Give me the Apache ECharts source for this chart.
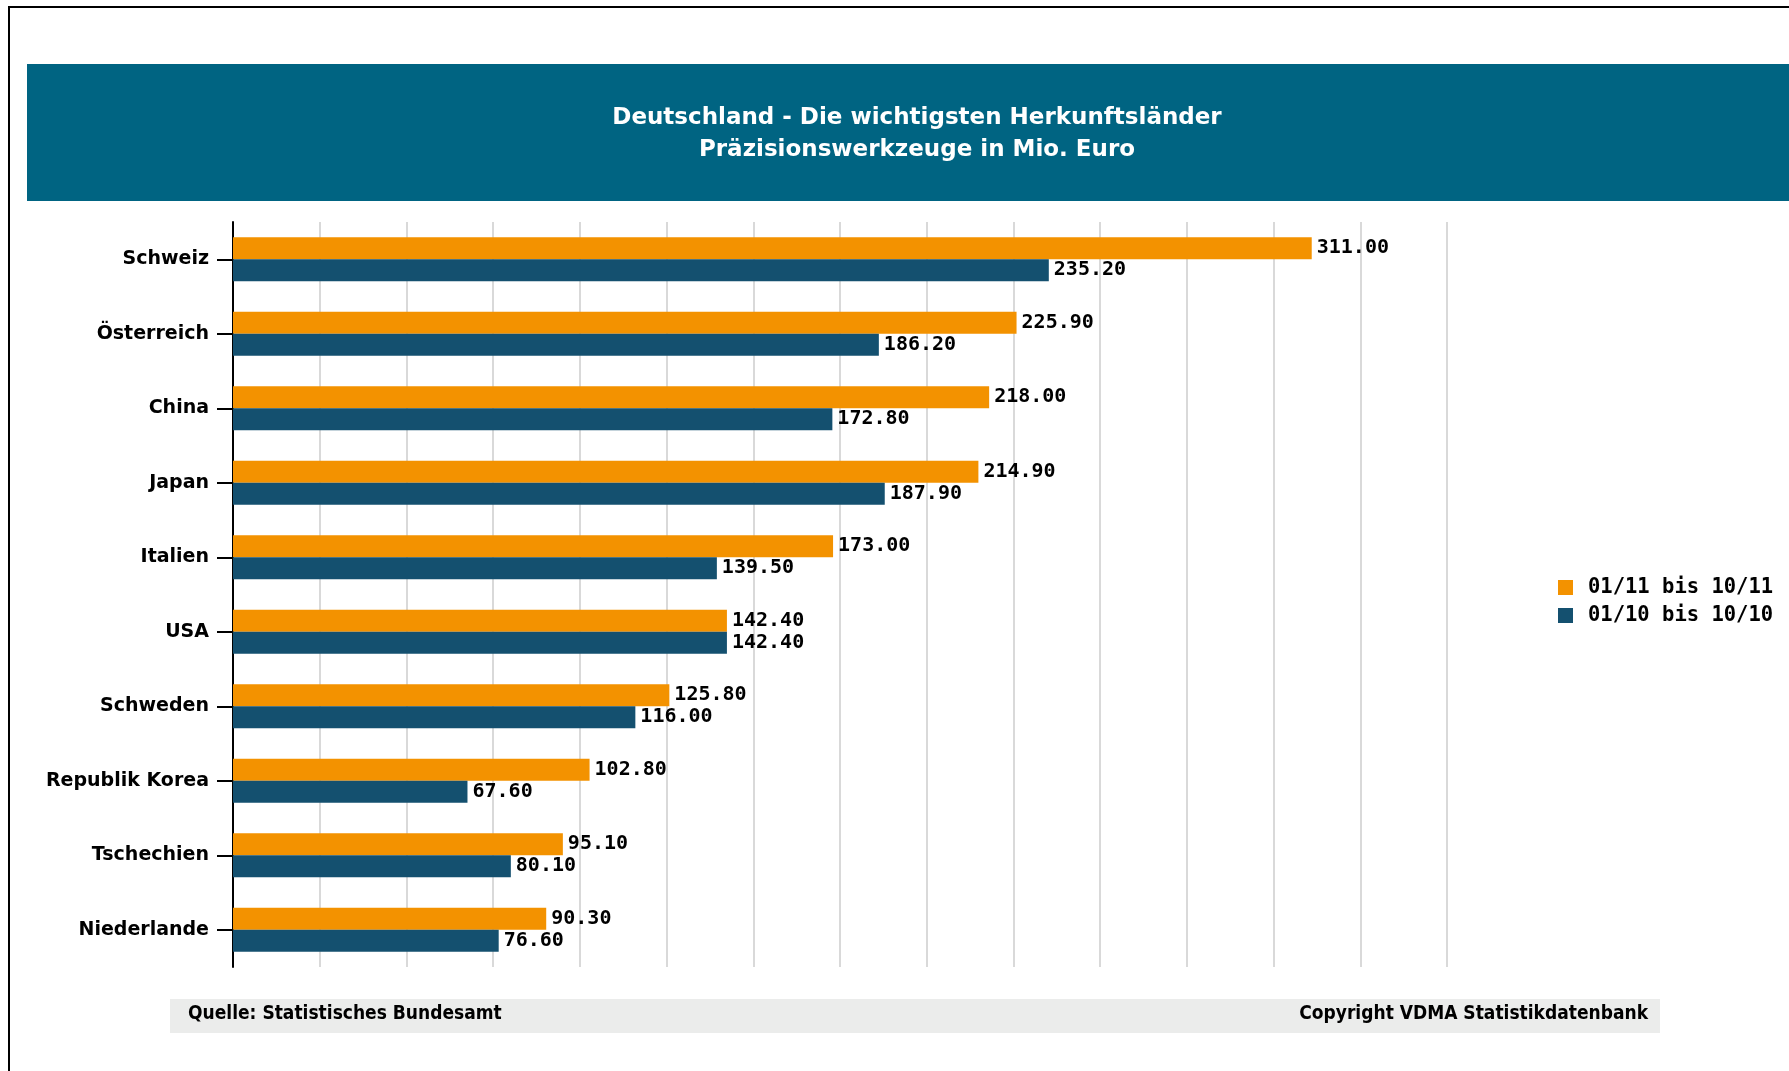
<!DOCTYPE html>
<html>
<head>
<meta charset="utf-8">
<script src="https://cdn.jsdelivr.net/npm/echarts@6/dist/echarts.min.js"></script>
<style>
  html, body { margin: 0; padding: 0; background: #fff; }
  #chart { width: 1789px; height: 1071px; }
</style>
</head>
<body>
<div id="chart"></div>
<script>
// Herkunftsländer
const countries = ['Schweiz', 'Österreich', 'China', 'Japan', 'Italien', 'USA', 'Schweden', 'Republik Korea', 'Tschechien', 'Niederlande']
// Werte in Mio. Euro
const values2011 = [311.0, 225.9, 218.0, 214.9, 173.0, 142.4, 125.8, 102.8, 95.1, 90.3]
const values2010 = [235.2, 186.2, 172.8, 187.9, 139.5, 142.4, 116.0, 67.6, 80.1, 76.6]
const seriesNames = ['01/11 bis 10/11', '01/10 bis 10/10']

const chart = echarts.init(document.getElementById('chart'))

const labelFont = {
  show: true,
  position: 'right',
  distance: 5,
  color: '#000',
  fontFamily: 'DejaVu Sans Mono',
  fontWeight: 'bold',
  fontSize: 20,
  formatter: (p) => p.value.toFixed(2)
}

const option = {
  animation: false,
  backgroundColor: '#fff',
  title: {
    text: 'Deutschland - Die wichtigsten Herkunftsländer\nPräzisionswerkzeuge in Mio. Euro',
    left: 912,
    top: 97,
    textAlign: 'center',
    textStyle: {
      color: '#fff',
      fontFamily: 'DejaVu Sans',
      fontWeight: 'bold',
      fontSize: 23,
      lineHeight: 32
    }
  },
  graphic: [
    {
      type: 'rect',
      shape: { x: 9, y: 7, width: 1800, height: 1100 },
      style: { fill: 'none', stroke: '#000', lineWidth: 2 },
      z: -1
    },
    {
      type: 'rect',
      shape: { x: 27, y: 64, width: 1780, height: 137 },
      style: { fill: '#006482' },
      z: -1
    },
    {
      type: 'rect',
      shape: { x: 170, y: 999, width: 1490, height: 34 },
      style: { fill: '#ebeceb' },
      z: -1
    },
    {
      type: 'text',
      left: 188,
      top: 1005,
      style: { text: 'Quelle: Statistisches Bundesamt', fill: '#000', font: 'bold 19px "DejaVu Sans Condensed", "DejaVu Sans"' }
    },
    {
      type: 'text',
      right: 1789 - 1648,
      top: 1005,
      style: { text: 'Copyright VDMA Statistikdatenbank', fill: '#000', font: 'bold 19px "DejaVu Sans Condensed", "DejaVu Sans"' }
    }
  ],
  legend: {
    orient: 'vertical',
    left: 1553,
    top: 572,
    itemWidth: 15,
    itemHeight: 15,
    itemGap: 7,
    icon: 'rect',
    data: seriesNames,
    textStyle: {
      color: '#000',
      fontFamily: 'DejaVu Sans Mono',
      fontWeight: 'bold',
      fontSize: 20.5,
      lineHeight: 20,
      padding: [0, 0, 0, 10]
    }
  },
  grid: {
    left: 233,
    right: 342,
    top: 222,
    bottom: 104,
    containLabel: false
  },
  xAxis: {
    type: 'value',
    min: 0,
    max: 350,
    interval: 25,
    axisLine: { show: false },
    axisTick: { show: false },
    axisLabel: { show: false },
    splitLine: { show: true, lineStyle: { color: '#d9d9d9', width: 2 } }
  },
  yAxis: {
    type: 'category',
    data: countries,
    inverse: true,
    axisLine: { show: true, lineStyle: { color: '#000', width: 2 } },
    axisTick: { show: true, alignWithLabel: true, length: 16, lineStyle: { color: '#000', width: 2 } },
    axisLabel: {
      margin: 24,
      color: '#000',
      fontFamily: 'DejaVu Sans',
      fontWeight: 'bold',
      fontSize: 19
    }
  },
  series: [
    {
      name: seriesNames[0],
      type: 'bar',
      data: values2011,
      barWidth: 22,
      barGap: '0%',
      itemStyle: { color: '#f39200' },
      label: labelFont
    },
    {
      name: seriesNames[1],
      type: 'bar',
      data: values2010,
      barWidth: 22,
      barGap: '0%',
      itemStyle: { color: '#14506f' },
      label: labelFont
    }
  ]
}

chart.setOption(option)
</script>
</body>
</html>
